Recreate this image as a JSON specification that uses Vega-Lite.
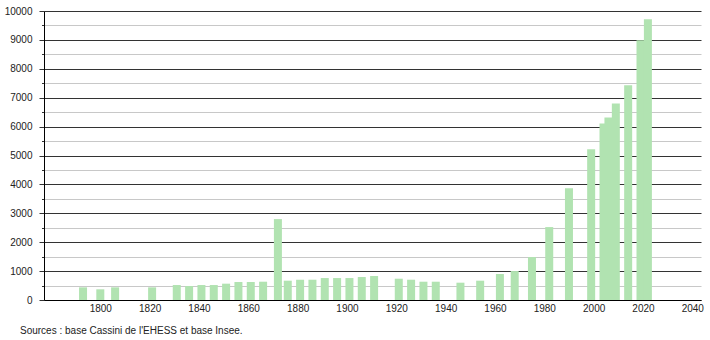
{
  "$schema": "https://vega.github.io/schema/vega-lite/v6.json",
  "width": 657,
  "height": 289,
  "autosize": "none",
  "padding": {"left": 44, "top": 11, "right": 9, "bottom": 40},
  "background": "white",
  "config": {"view": {"stroke": null}, "font": "Liberation Sans"},
  "title": {"text": "Sources : base Cassini de l'EHESS et base Insee.", "orient": "bottom", "anchor": "start", "frame": "group", "dx": -24, "offset": 13, "fontSize": 10, "fontWeight": "normal", "color": "#222", "font": "Liberation Sans"},
  "data": {"values": [
    {"year": 1793, "pop": 438}, {"year": 1800, "pop": 370}, {"year": 1806, "pop": 438},
    {"year": 1821, "pop": 438}, {"year": 1831, "pop": 518}, {"year": 1836, "pop": 484},
    {"year": 1841, "pop": 518}, {"year": 1846, "pop": 518}, {"year": 1851, "pop": 565},
    {"year": 1856, "pop": 622}, {"year": 1861, "pop": 622}, {"year": 1866, "pop": 633},
    {"year": 1872, "pop": 2800}, {"year": 1876, "pop": 668}, {"year": 1881, "pop": 702},
    {"year": 1886, "pop": 702}, {"year": 1891, "pop": 760}, {"year": 1896, "pop": 760},
    {"year": 1901, "pop": 760}, {"year": 1906, "pop": 795}, {"year": 1911, "pop": 830},
    {"year": 1921, "pop": 737}, {"year": 1926, "pop": 702}, {"year": 1931, "pop": 633},
    {"year": 1936, "pop": 633}, {"year": 1946, "pop": 599}, {"year": 1954, "pop": 668},
    {"year": 1962, "pop": 899}, {"year": 1968, "pop": 1002}, {"year": 1975, "pop": 1486},
    {"year": 1982, "pop": 2523}, {"year": 1990, "pop": 3871}, {"year": 1999, "pop": 5220},
    {"year": 2004, "pop": 6108}, {"year": 2006, "pop": 6316}, {"year": 2009, "pop": 6800},
    {"year": 2014, "pop": 7432}, {"year": 2019, "pop": 8990}, {"year": 2022, "pop": 9712}
  ]},
  "mark": {"type": "bar", "size": 8, "color": "#b1e3b1"},
  "encoding": {
    "x": {
      "field": "year", "type": "quantitative",
      "scale": {"domain": [1779.2, 2041.5], "nice": false, "zero": false},
      "axis": {
        "title": null, "values": [1800, 1820, 1840, 1860, 1880, 1900, 1920, 1940, 1960, 1980, 2000, 2020, 2040],
        "format": "d", "grid": false, "ticks": false, "domainColor": "#000", "domainWidth": 1,
        "labelFontSize": 10, "labelColor": "#222", "labelPadding": 3, "labelFont": "Liberation Sans"
      }
    },
    "y": {
      "field": "pop", "type": "quantitative",
      "scale": {"domain": [0, 10000], "nice": false},
      "axis": {
        "title": null,
        "values": [0, 500, 1000, 1500, 2000, 2500, 3000, 3500, 4000, 4500, 5000, 5500, 6000, 6500, 7000, 7500, 8000, 8500, 9000, 9500, 10000],
        "format": "d",
        "labelExpr": "datum.value % 1000 === 0 ? datum.label : ''",
        "grid": true,
        "gridColor": {"condition": {"test": "datum.value % 1000 === 0", "value": "#333333"}, "value": "#c8c8c8"},
        "gridWidth": 1,
        "tickColor": "#333",
        "tickSize": {"condition": {"test": "datum.value % 1000 === 0", "value": 5}, "value": 2.5},
        "domainColor": "#000",
        "labelFontSize": 10, "labelColor": "#222", "labelPadding": 7, "labelFont": "Liberation Sans"
      }
    }
  }
}
